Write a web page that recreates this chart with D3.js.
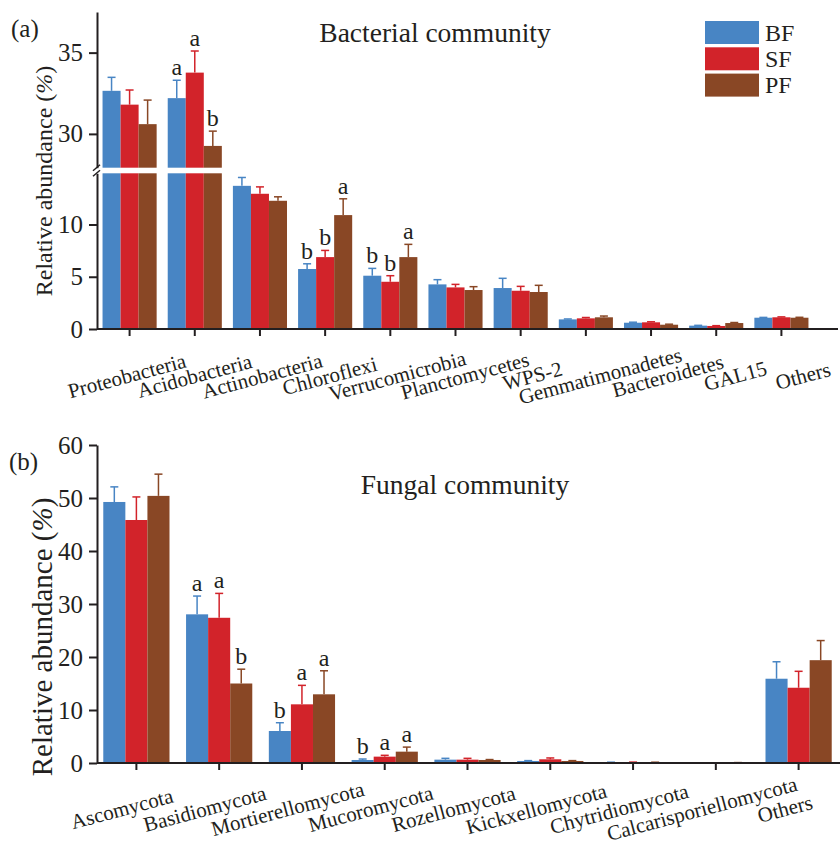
<!DOCTYPE html>
<html>
<head>
<meta charset="utf-8">
<script src="https://cdn.jsdelivr.net/npm/d3@7"></script>
<style>
  body { margin: 0; background: #fff; }
  text { font-family: "Liberation Serif", "Times New Roman", serif; fill: #231f20; }
</style>
</head>
<body>
<svg id="chart"></svg>
<script>
const groups = ["BF", "SF", "PF"];
const colors = ["#4885c4", "#d2232a", "#894725"];

// bacterial community
const bacCats = ["Proteobacteria", "Acidobacteria", "Actinobacteria", "Chloroflexi", "Verrucomicrobia",
  "Planctomycetes", "WPS-2", "Gemmatimonadetes", "Bacteroidetes", "GAL15", "Others"];
const bacBF = [32.65, 32.2, 13.7, 5.74, 5.1, 4.27, 3.92, 0.92, 0.6, 0.32, 1.08];
const bacSF = [31.8, 33.77, 12.94, 6.88, 4.52, 3.98, 3.66, 1.02, 0.64, 0.29, 1.12];
const bacPF = [30.6, 29.26, 12.27, 10.9, 6.88, 3.73, 3.54, 1.12, 0.41, 0.57, 1.08];
const bacBFsd = [0.83, 1.1, 0.8, 0.5, 0.7, 0.45, 0.93, 0.04, 0.05, 0.03, 0.03];
const bacSFsd = [0.9, 1.33, 0.66, 0.64, 0.58, 0.29, 0.42, 0.08, 0.05, 0.03, 0.04];
const bacPFsd = [1.48, 0.91, 0.38, 1.56, 1.22, 0.32, 0.64, 0.12, 0.05, 0.05, 0.04];
const bacLetters = [["", "", ""], ["a", "a", "b"], ["", "", ""], ["b", "b", "a"], ["b", "b", "a"],
  ["", "", ""], ["", "", ""], ["", "", ""], ["", "", ""], ["", "", ""], ["", "", ""]];
const bacTicksLow = [0, 5, 10];
const bacTicksHigh = [30, 35];

// fungal community
const funCats = ["Ascomycota", "Basidiomycota", "Mortierellomycota", "Mucoromycota", "Rozellomycota",
  "Kickxellomycota", "Chytridiomycota", "Calcarisporiellomycota", "Others"];
const funBF = [49.25, 28.05, 6.04, 0.57, 0.63, 0.38, 0.1, 0.02, 15.9];
const funSF = [45.85, 27.4, 11.07, 1.2, 0.63, 0.7, 0.12, 0.02, 14.2];
const funPF = [50.4, 15.0, 12.96, 2.14, 0.57, 0.38, 0.1, 0.05, 19.4];
const funBFsd = [2.85, 3.45, 1.56, 0.18, 0.25, 0.07, 0.05, 0.03, 3.2];
const funSFsd = [4.35, 4.6, 3.58, 0.25, 0.25, 0.25, 0.05, 0.03, 3.1];
const funPFsd = [4.1, 2.7, 4.44, 0.86, 0.08, 0.07, 0.05, 0.03, 3.7];
const funLetters = [["", "", ""], ["a", "a", "b"], ["b", "a", "a"], ["b", "a", "a"],
  ["", "", ""], ["", "", ""], ["", "", ""], ["", "", ""], ["", "", ""]];
const funTicks = [0, 10, 20, 30, 40, 50, 60];

const w = 840;
const h = 847;
const axisX = 97;
const ink = "#231f20";

const svg = d3.select("#chart").attr("width", w).attr("height", h);

const toRows = (cats, vals, sds, letters) => {
  let rows = [];
  cats.forEach((c, i) => {
    groups.forEach((g, j) => {
      rows.push({cat: c, group: g, gi: j, v: vals[j][i], sd: sds[j][i], letter: letters[i][j]});
    });
  });
  return rows;
};

const styleAxis = (g, size) => {
  g.selectAll("path, line").attr("stroke", ink).attr("stroke-width", 2);
  g.selectAll("text").attr("font-size", size).attr("fill", ink)
    .style("font-family", "Liberation Serif, serif");
};

/* ---------- panel (a) ---------- */
const xBac = d3.scaleBand().domain(bacCats).range([axisX, 814]).paddingInner(0.17).paddingOuter(0.085);
const xBacSub = d3.scaleBand().domain(groups).range([0, xBac.bandwidth()]);
const breakLow = 14.9;
const breakHigh = 27.92;
const yLow = d3.scaleLinear().domain([0, breakLow]).range([329, 173.3]);
const yHigh = d3.scaleLinear().domain([breakHigh, 37.5]).range([167.7, 12]);
const yBac = (v) => v <= breakLow ? yLow(v) : yHigh(v);

const bacRows = toRows(bacCats, [bacBF, bacSF, bacPF], [bacBFsd, bacSFsd, bacPFsd], bacLetters);
const gA = svg.append("g");

gA.selectAll("rect.low")
  .data(bacRows)
  .join("rect")
  .attr("class", "low")
  .attr("x", d => xBac(d.cat) + xBacSub(d.group))
  .attr("width", xBacSub.bandwidth())
  .attr("y", d => yLow(Math.min(d.v, breakLow)))
  .attr("height", d => yLow(0) - yLow(Math.min(d.v, breakLow)))
  .attr("fill", d => colors[d.gi]);

gA.selectAll("rect.high")
  .data(bacRows.filter(d => d.v > breakLow))
  .join("rect")
  .attr("class", "high")
  .attr("x", d => xBac(d.cat) + xBacSub(d.group))
  .attr("width", xBacSub.bandwidth())
  .attr("y", d => yHigh(d.v))
  .attr("height", d => yHigh(breakHigh) - yHigh(d.v))
  .attr("fill", d => colors[d.gi]);

const drawErrors = (g, rows, xs, xsub, ys) => {
  const cx = d => xs(d.cat) + xsub(d.group) + xsub.bandwidth() / 2;
  g.selectAll("line.err")
    .data(rows)
    .join("line")
    .attr("class", "err")
    .attr("x1", cx).attr("x2", cx)
    .attr("y1", d => ys(d.v)).attr("y2", d => ys(d.v + d.sd))
    .attr("stroke", d => colors[d.gi]).attr("stroke-width", 1.5);
  g.selectAll("line.cap")
    .data(rows)
    .join("line")
    .attr("class", "cap")
    .attr("x1", d => cx(d) - 4).attr("x2", d => cx(d) + 4)
    .attr("y1", d => ys(d.v + d.sd)).attr("y2", d => ys(d.v + d.sd))
    .attr("stroke", d => colors[d.gi]).attr("stroke-width", 1.5);
  g.selectAll("text.sig")
    .data(rows.filter(d => d.letter))
    .join("text")
    .attr("class", "sig")
    .attr("x", cx)
    .attr("y", d => ys(d.v + d.sd) - 5)
    .attr("text-anchor", "middle")
    .attr("font-size", 24)
    .text(d => d.letter);
};
drawErrors(gA, bacRows, xBac, xBacSub, yBac);

// y axes with break
gA.append("g")
  .attr("transform", `translate(${axisX},0)`)
  .call(d3.axisLeft(yHigh).tickValues(bacTicksHigh).tickSize(8).tickSizeOuter(0).tickPadding(6))
  .call(g => styleAxis(g, 25));
gA.append("g")
  .attr("transform", `translate(${axisX},0)`)
  .call(d3.axisLeft(yLow).tickValues(bacTicksLow).tickSize(8).tickSizeOuter(0).tickPadding(6))
  .call(g => styleAxis(g, 25));
gA.selectAll("line.brk")
  .data([yHigh(breakHigh), yLow(breakLow)])
  .join("line")
  .attr("class", "brk")
  .attr("x1", axisX - 4).attr("x2", axisX + 3)
  .attr("y1", d => d + 3).attr("y2", d => d - 3)
  .attr("stroke", ink).attr("stroke-width", 1.5);

// x axis
gA.append("g")
  .attr("transform", `translate(0,${yLow(0)})`)
  .call(d3.axisBottom(xBac).tickSize(7).tickSizeOuter(0).tickFormat(""))
  .call(g => g.select(".domain").remove())
  .call(g => styleAxis(g, 20));
gA.append("line")
  .attr("x1", axisX).attr("x2", w - 2)
  .attr("y1", yLow(0)).attr("y2", yLow(0))
  .attr("stroke", ink).attr("stroke-width", 2);

const xBacLab = d3.scalePoint().domain(bacCats).range([127, 803]);
gA.selectAll("text.cat")
  .data(bacCats)
  .join("text")
  .attr("class", "cat")
  .attr("transform", d => `translate(${xBacLab(d)},376) rotate(-15)`)
  .attr("text-anchor", "middle")
  .attr("dominant-baseline", "central")
  .attr("font-size", 21)
  .text(d => d);

gA.append("text")
  .attr("transform", "translate(52,181) rotate(-90)")
  .attr("text-anchor", "middle")
  .attr("font-size", 24)
  .call(t => {
    t.append("tspan").text("Relative abundance (");
    t.append("tspan").attr("font-style", "italic").text("%");
    t.append("tspan").text(")");
  });

gA.append("text").attr("x", 11).attr("y", 37).attr("font-size", 25).text("(a)");
gA.append("text").attr("x", 435).attr("y", 42).attr("text-anchor", "middle")
  .attr("font-size", 27.5).text("Bacterial community");

// legend
const legend = gA.append("g").attr("transform", "translate(705,21)");
legend.selectAll("rect")
  .data(groups)
  .join("rect")
  .attr("x", 0)
  .attr("y", (d, i) => i * 26.3)
  .attr("width", 54)
  .attr("height", 23)
  .attr("fill", (d, i) => colors[i]);
legend.selectAll("text")
  .data(groups)
  .join("text")
  .attr("x", 60)
  .attr("y", (d, i) => i * 26.3 + 19.5)
  .attr("font-size", 24)
  .text(d => d);

/* ---------- panel (b) ---------- */
const xFun = d3.scaleBand().domain(funCats).range([95, 840]).paddingInner(0.2).paddingOuter(0.1);
const xFunSub = d3.scaleBand().domain(groups).range([0, xFun.bandwidth()]);
const yFun = d3.scaleLinear().domain([0, 60]).range([763, 445]);

const funRows = toRows(funCats, [funBF, funSF, funPF], [funBFsd, funSFsd, funPFsd], funLetters);
const gB = svg.append("g");

gB.selectAll("rect.bar")
  .data(funRows)
  .join("rect")
  .attr("class", "bar")
  .attr("x", d => xFun(d.cat) + xFunSub(d.group))
  .attr("width", xFunSub.bandwidth())
  .attr("y", d => yFun(d.v))
  .attr("height", d => yFun(0) - yFun(d.v))
  .attr("fill", d => colors[d.gi]);
drawErrors(gB, funRows, xFun, xFunSub, yFun);

gB.append("g")
  .attr("transform", `translate(${axisX},0)`)
  .call(d3.axisLeft(yFun).tickValues(funTicks).tickSize(8).tickSizeOuter(0).tickPadding(6))
  .call(g => styleAxis(g, 25));

gB.append("g")
  .attr("transform", `translate(0,${yFun(0)})`)
  .call(d3.axisBottom(xFun).tickSize(7).tickSizeOuter(0).tickFormat(""))
  .call(g => g.select(".domain").remove())
  .call(g => styleAxis(g, 20));
gB.append("line")
  .attr("x1", axisX).attr("x2", w)
  .attr("y1", yFun(0)).attr("y2", yFun(0))
  .attr("stroke", ink).attr("stroke-width", 2);

const xFunLab = d3.scalePoint().domain(funCats).range([122, 785]);
gB.selectAll("text.cat")
  .data(funCats)
  .join("text")
  .attr("class", "cat")
  .attr("transform", d => `translate(${xFunLab(d)},809) rotate(-15)`)
  .attr("text-anchor", "middle")
  .attr("dominant-baseline", "central")
  .attr("font-size", 21)
  .text(d => d);

gB.append("text")
  .attr("transform", "translate(52,637) rotate(-90)")
  .attr("text-anchor", "middle")
  .attr("font-size", 29)
  .call(t => {
    t.append("tspan").text("Relative abundance (");
    t.append("tspan").attr("font-style", "italic").text("%");
    t.append("tspan").text(")");
  });

gB.append("text").attr("x", 9).attr("y", 470).attr("font-size", 25).text("(b)");
gB.append("text").attr("x", 465).attr("y", 494).attr("text-anchor", "middle")
  .attr("font-size", 27.5).text("Fungal community");
</script>
</body>
</html>
